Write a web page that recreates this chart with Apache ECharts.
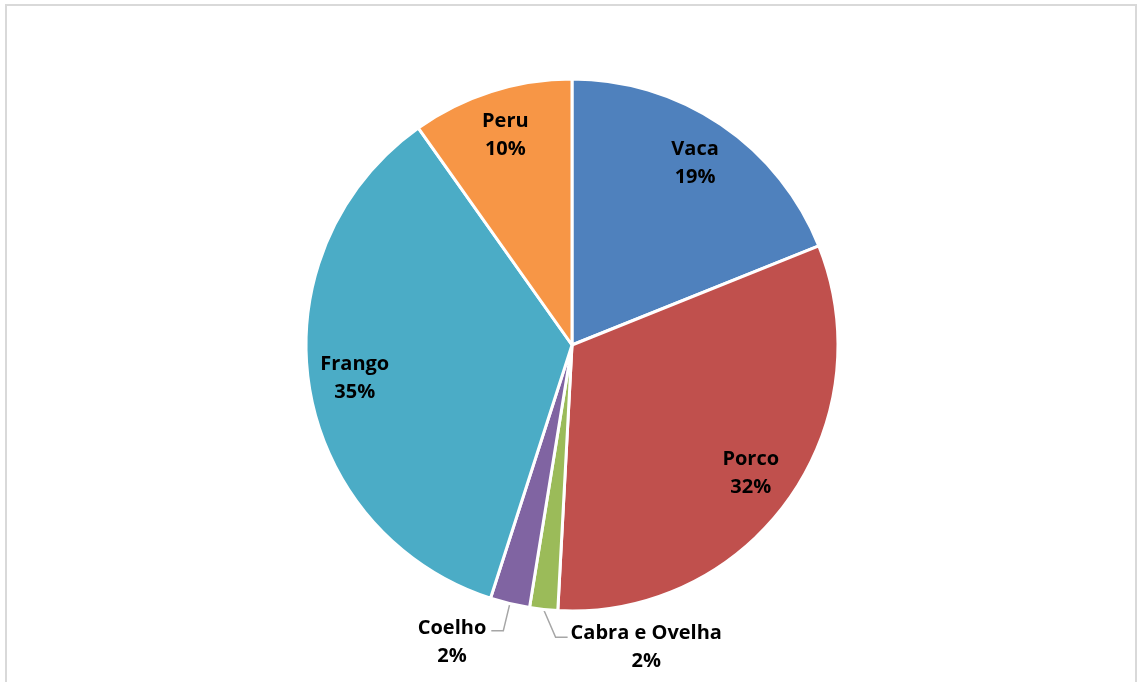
<!DOCTYPE html>
<html>
<head>
<meta charset="utf-8">
<script src="https://cdn.jsdelivr.net/npm/echarts@6/dist/echarts.min.js"></script>
<style>
  html, body { margin: 0; padding: 0; background: #fff; }
  #chart { width: 1137px; height: 682px; }
</style>
</head>
<body>
<div id="chart"></div>
<script>
// Consumo de carne por tipo de animal (%)
const categories = ['Vaca', 'Porco', 'Cabra e Ovelha', 'Coelho', 'Frango', 'Peru'];
const values = [18.9, 31.9, 1.7, 2.4, 35.2, 9.8];
const colors = ['#4F81BD', '#C0504D', '#9BBB59', '#8064A2', '#4BACC6', '#F79646'];
// small slices get their labels outside, with a leader line
const outsideLabels = ['Cabra e Ovelha', 'Coelho'];
// labels that sit to the right of their slice
const rightSideLabels = ['Cabra e Ovelha'];

const FONT = 'Open Sans';
const labelText = { fontFamily: FONT, fontWeight: 'bold', fontSize: 20, color: '#000', lineHeight: 28 };

const center = [572, 345];
const radius = 266;

function pctText(p) {
  return Math.round(p.percent) + '%';
}

const mainData = categories.map((name, i) => ({
  name,
  value: values[i],
  itemStyle: { color: colors[i] },
  label: { show: outsideLabels.includes(name) },
  labelLine: { show: outsideLabels.includes(name) }
}));

const innerLabelData = categories.map((name, i) => ({
  name,
  value: values[i],
  label: { show: !outsideLabels.includes(name) }
}));

const chart = echarts.init(document.getElementById('chart'));
chart.setOption({
  backgroundColor: '#fff',
  animation: false,
  graphic: [{
    type: 'rect',
    shape: { x: 6, y: 5, width: 1130, height: 720 },
    style: { fill: 'none', stroke: '#d9d9d9', lineWidth: 2 },
    silent: true
  }],
  series: [
    {
      type: 'pie',
      center: center,
      radius: radius,
      startAngle: 90,
      clockwise: true,
      avoidLabelOverlap: false,
      itemStyle: { borderColor: '#fff', borderWidth: 3 },
      label: {
        position: 'outside',
        formatter: p => '{c|' + p.name + '}\n{c|' + pctText(p) + '}',
        rich: { c: Object.assign({ align: 'center' }, labelText) }
      },
      labelLine: {
        length: 28,
        length2: 12,
        lineStyle: { color: '#a6a6a6', width: 1.5 }
      },
      labelLayout: function (params) {
        const name = categories[params.dataIndex];
        const pts = params.labelLinePoints;
        if (!pts) return;
        if (rightSideLabels.includes(name)) {
          const p0 = pts[0];
          const y = pts[1][1];
          const p1 = [p0[0] + 12, y];
          const p2 = [p1[0] + 12, y];
          return {
            x: p2[0] + 3,
            y: y + 10,
            align: 'left',
            verticalAlign: 'middle',
            labelLinePoints: [p0, p1, p2]
          };
        }
        return { dy: 11 };
      },
      data: mainData
    },
    {
      // transparent twin pie: places the in-slice labels at ~82% of the radius
      type: 'pie',
      center: center,
      radius: radius * 0.815 * 2,
      startAngle: 90,
      clockwise: true,
      silent: true,
      itemStyle: { color: 'rgba(0,0,0,0)', borderWidth: 0 },
      label: {
        position: 'inside',
        formatter: p => '{c|' + p.name + '}\n{c|' + pctText(p) + '}',
        rich: { c: Object.assign({ align: 'center' }, labelText) }
      },
      labelLine: { show: false },
      emphasis: { disabled: true },
      data: innerLabelData
    }
  ]
});
</script>
</body>
</html>
